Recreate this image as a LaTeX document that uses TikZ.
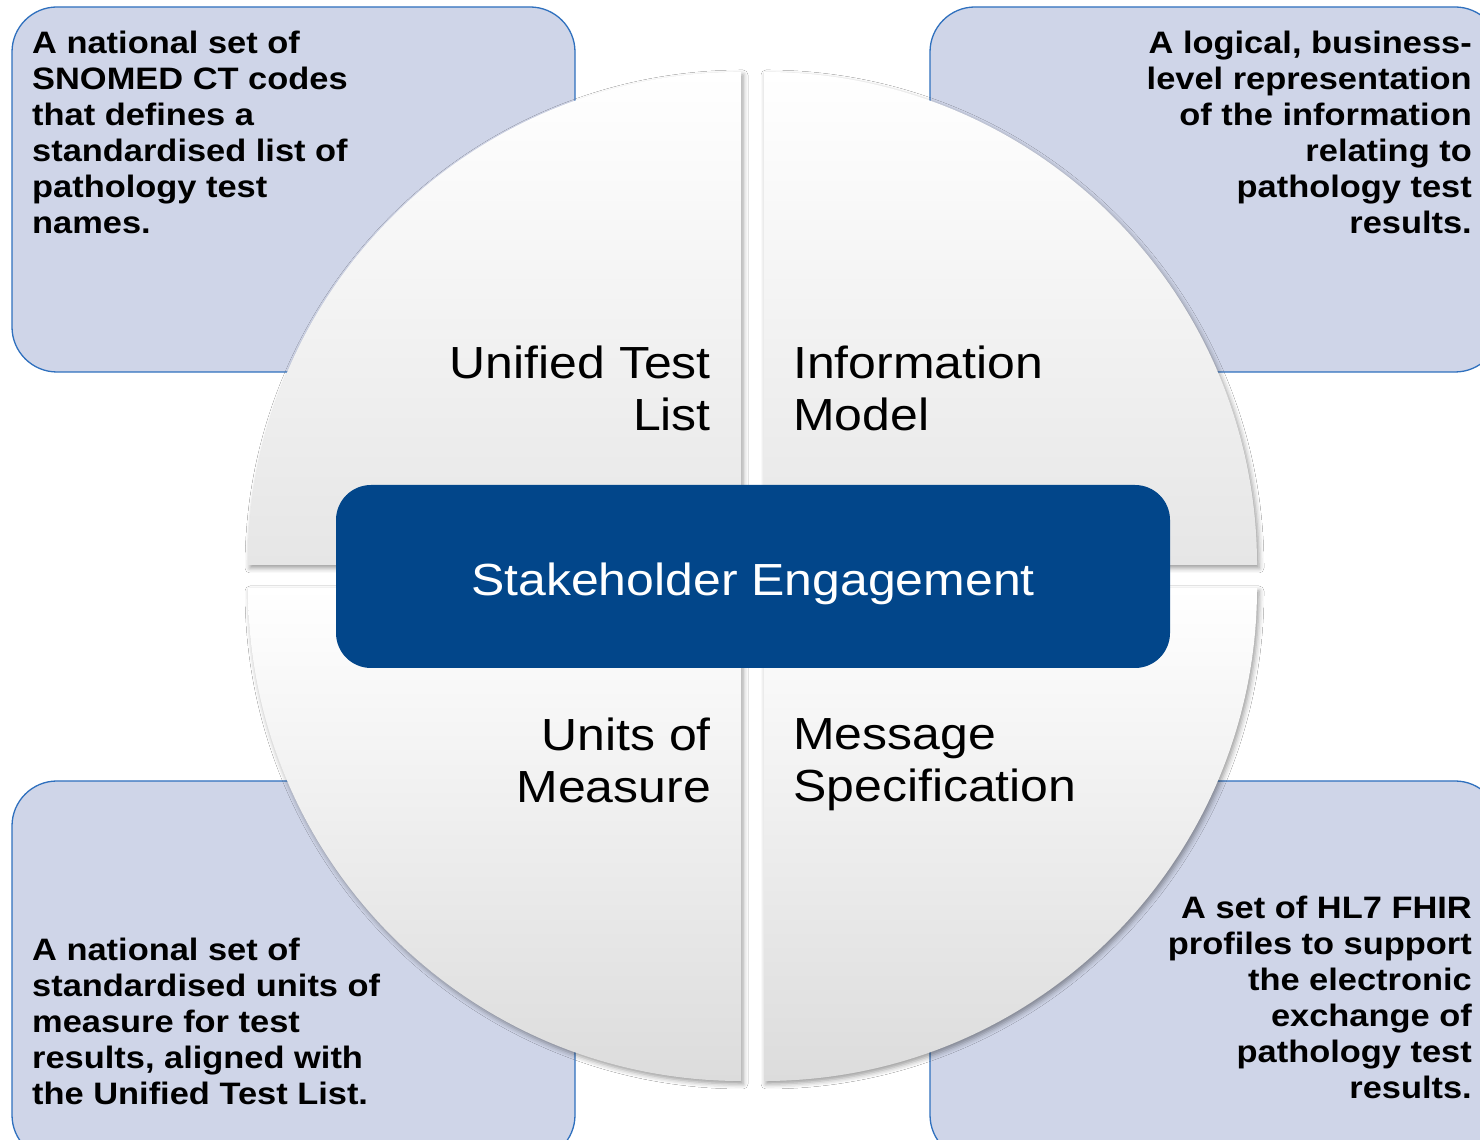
\documentclass[tikz,border=0pt]{standalone}
\usepackage{fontspec}
\setmainfont[FakeStretch=1.11]{Liberation Sans}
\usetikzlibrary{shadows.blur}
\definecolor{descfill}{HTML}{CFD5E8}
\definecolor{descline}{HTML}{2F70BE}
\definecolor{hubblue}{HTML}{02468A}
\definecolor{qtop}{HTML}{E6E6E6}
\definecolor{qbot}{HTML}{DCDCDC}
\tikzset{
  descbox/.style={fill=descfill, draw=descline, line width=1.3pt, rounded corners=45pt},
  desctext/.style={inner sep=0pt, font=\fontsize{31}{36}\selectfont\bfseries, text=black},
  quad/.style={draw=none, blur shadow={shadow xshift=2pt, shadow yshift=-3pt, shadow blur radius=5pt, shadow opacity=40}},
  qlabel/.style={inner sep=0pt, font=\fontsize{45}{52}\selectfont, text=black},
  hub/.style={fill=hubblue, draw=none, rounded corners=35pt},
}
\begin{document}
\begin{tikzpicture}[x=1pt,y=1pt]
\useasboundingbox (0,0) rectangle (1480,1140);
\clip (0,0) rectangle (1480,1140);
\fill[white] (0,0) rectangle (1480,1140);

% description boxes
\draw[descbox] (12,768) rectangle (575,1133);
\draw[descbox] (930,768) rectangle (1500,1133);
\draw[descbox] (12,-20) rectangle (575,359);
\draw[descbox] (930,-20) rectangle (1500,359);

% quadrants
\path[quad, top color=white, bottom color=qtop]
  (741,575) -- (248,575) arc[start angle=180, end angle=90, radius=493] -- cycle;
\path[quad, top color=white, bottom color=qtop]
  (764,575) -- (764,1068) arc[start angle=90, end angle=0, radius=493] -- cycle;
\path[quad, top color=white, middle color=white, bottom color=qbot]
  (741,552) -- (248,552) arc[start angle=180, end angle=270, radius=493] -- cycle;
\path[quad, top color=white, middle color=white, bottom color=qbot]
  (764,552) -- (1257,552) arc[start angle=0, end angle=-90, radius=493] -- cycle;

% hub
\path[hub] (336,472) rectangle (1170,655);
\node[qlabel, text=white, anchor=base] (hubtext) at (753,544) {Stakeholder Engagement};

% quadrant labels
\node[qlabel, anchor=north east, align=right] (utl) at (711,794) {Unified Test\\List};
\node[qlabel, anchor=north west, align=left] (im) at (793,794) {Information\\Model};
\node[qlabel, anchor=north east, align=right] (uom) at (711,422) {Units of\\Measure};
\node[qlabel, anchor=north west, align=left] (ms) at (793,422) {Message\\Specification};

% descriptions
\node[desctext, anchor=north west, align=left] (d1) at (32,1109.5)
  {A national set of\\SNOMED CT codes\\that defines a\\standardised list of\\pathology test\\names.};
\node[desctext, anchor=north east, align=right] (d2) at (1472,1109.5)
  {A logical, business-\\level representation\\of the information\\relating to\\pathology test\\results.};
\node[desctext, anchor=north west, align=left] (d3) at (32,202.5)
  {A national set of\\standardised units of\\measure for test\\results, aligned with\\the Unified Test List.};
\node[desctext, anchor=north east, align=right] (d4) at (1472,244.5)
  {A set of HL7 FHIR\\profiles to support\\the electronic\\exchange of\\pathology test\\results.};
\end{tikzpicture}
\end{document}
